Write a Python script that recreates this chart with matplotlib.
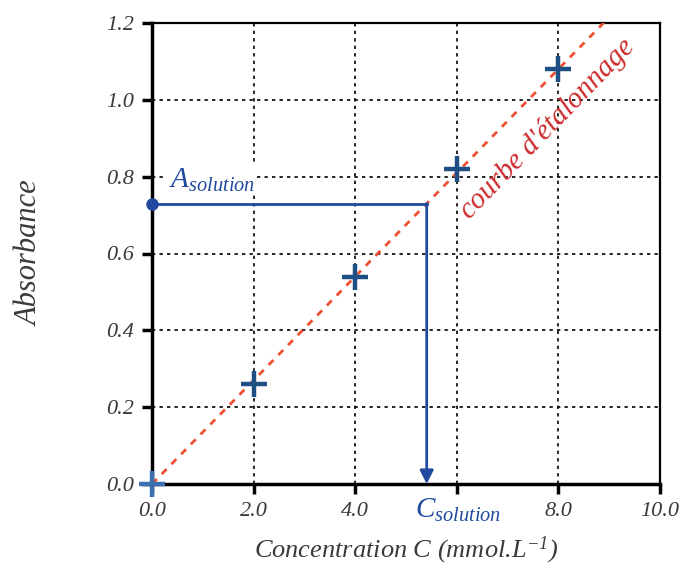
import numpy as np
import matplotlib.pyplot as plt

# calibration points
conc = [0.0, 2.0, 4.0, 6.0, 8.0]
absorb = [0.0, 0.26, 0.54, 0.82, 1.08]
slope = 0.135          # calibration line A = k*C
a_solution = 0.73
c_solution = a_solution / slope

x_ticks = [0.0, 2.0, 4.0, 6.0, 8.0, 10.0]
# the 6.0 label is covered by C_solution in the original
x_labels = ["0.0", "2.0", "4.0", "", "8.0", "10.0"]
y_ticks = [0.0, 0.2, 0.4, 0.6, 0.8, 1.0, 1.2]

BLUE = "#1f4aa0"
DARKBLUE = "#1d4f85"
RED = "#ee5030"
TXT = "#3a3a3a"

plt.rcParams["font.family"] = ["Liberation Serif", "DejaVu Serif"]
plt.rcParams["font.style"] = "italic"
plt.rcParams["mathtext.fontset"] = "custom"
plt.rcParams["mathtext.rm"] = "Liberation Serif:italic"
plt.rcParams["mathtext.it"] = "Liberation Serif:italic"

fig = plt.figure(figsize=(6.9, 5.71), dpi=100)
ax = fig.add_axes([152 / 690, (571 - 484) / 571, 508 / 690, 461 / 571])

ax.set_xlim(0, 10)
ax.set_ylim(0, 1.2)
ax.set_xticks(x_ticks)
ax.set_yticks(y_ticks)
ax.set_xticklabels(x_labels)
ax.set_yticklabels([f"{v:.1f}" for v in y_ticks])
ax.tick_params(direction="out", length=7, width=2.5, labelsize=16,
               labelcolor=TXT, pad=6)
ax.grid(True, color="black", linestyle=(0, (2, 2.5)), linewidth=1.2)
ax.set_axisbelow(True)
for side in ("left", "bottom"):
    ax.spines[side].set_linewidth(2.5)
for side in ("top", "right"):
    ax.spines[side].set_linewidth(1.6)

# calibration line
xl = np.array([0, 10])
ax.plot(xl, slope * xl, color=RED, linestyle=(0, (2.5, 2.5)), linewidth=2,
        zorder=3)

# measured points
ax.plot(conc[1:], absorb[1:], linestyle="none", marker="+", markersize=19,
        markeredgewidth=3.2, color=DARKBLUE, zorder=4)
ax.plot(conc[:1], absorb[:1], linestyle="none", marker="+", markersize=19,
        markeredgewidth=3.2, color="#3a70b0", zorder=4, clip_on=False)

# reading the solution
ax.plot([0, c_solution], [a_solution, a_solution], color=BLUE, linewidth=2,
        zorder=5)
ax.annotate("", xy=(c_solution, 0), xytext=(c_solution, a_solution),
            arrowprops=dict(arrowstyle="-|>", color=BLUE, lw=2,
                            mutation_scale=20, shrinkA=0, shrinkB=0),
            zorder=5)
ax.plot([0], [a_solution], marker="o", markersize=8, color=BLUE,
        clip_on=False, zorder=6)

ax.text(0.33, 0.755, r"$A_{solution}$", color=BLUE, fontsize=21,
        ha="left", va="bottom", zorder=6,
        bbox=dict(facecolor="white", edgecolor="none", pad=1))
ax.text(c_solution + 0.62, -0.068, r"$C_{solution}$", color=BLUE,
        fontsize=21, ha="center", va="center", clip_on=False, zorder=10)

ax.text(7.78, 0.925, "courbe d'étalonnage", color="#cc2b2b", fontsize=21,
        rotation=46, rotation_mode="anchor", ha="center", va="center",
        zorder=6)

ax.set_xlabel("Concentration C (mmol.L$^{-1}$)", fontsize=19, color=TXT,
              labelpad=10)
ax.set_ylabel("Absorbance", fontsize=22, color=TXT, labelpad=44)

fig.savefig("out.png", dpi=100)
